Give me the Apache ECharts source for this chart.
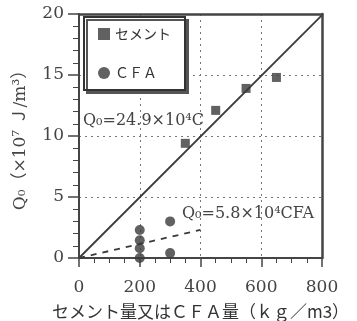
<!DOCTYPE html>
<html>
<head>
<meta charset="utf-8">
<script src="https://cdn.jsdelivr.net/npm/echarts@6/dist/echarts.min.js"></script>
<style>
  html, body { margin: 0; padding: 0; background: #fff; }
  #chart { width: 357px; height: 321px; }
</style>
</head>
<body>
<div id="chart"></div>
<script>
  // セメント (x: kg/m3, y: ×10^7 J/m3)
  const cementData = [[350, 9.4], [450, 12.1], [550, 13.9], [650, 14.8]]
  // CFA
  const cfaData = [[200, 0], [200, 0.8], [200, 1.45], [200, 2.3], [300, 0.4], [300, 3.0]]
  // 回帰直線
  const cementFit = [[0, 0], [800, 19.9]]
  const cfaFit = [[0, 0], [400, 2.3]]
  const xTicks = [0, 200, 400, 600, 800]
  const yTicks = [0, 5, 10, 15, 20]

  const serif = 'DejaVu Serif, Liberation Serif, Noto Sans CJK JP'
  const cjk = 'Noto Sans CJK JP'
  const ink = '#3a3a3a'

  const chart = echarts.init(document.getElementById('chart'))

  const option = {
    backgroundColor: '#fff',
    animation: false,
    grid: { left: 79, right: 35, top: 14, bottom: 63, outerBoundsMode: 'none' },
    legend: {
      left: 84,
      top: 17,
      orient: 'vertical',
      itemGap: 25,
      itemWidth: 12,
      itemHeight: 12,
      padding: [10, 14, 10, 14],
      borderColor: '#333',
      borderWidth: 2,
      backgroundColor: '#fff',
      shadowColor: '#555',
      shadowBlur: 0,
      shadowOffsetX: 3,
      shadowOffsetY: 3,
      textStyle: { fontFamily: cjk, fontSize: 14, color: '#333' },
      data: [
        { name: 'セメント', icon: 'rect' },
        { name: 'ＣＦＡ', icon: 'circle' }
      ]
    },
    xAxis: [{
      type: 'value',
      min: 0,
      max: 800,
      interval: 200,
      name: 'セメント量又はＣＦＡ量（ｋｇ／m3）',
      nameLocation: 'middle',
      nameGap: 45,
      nameTextStyle: { fontFamily: cjk, fontSize: 17, color: '#333' },
      axisLine: { lineStyle: { color: '#444', width: 2 } },
      axisTick: { length: 9, lineStyle: { color: '#444', width: 1.5 } },
      minorTick: { show: true, splitNumber: 4, length: 5, lineStyle: { color: '#444', width: 1 } },
      axisLabel: {
        margin: 21, fontFamily: serif, fontSize: 17, color: '#444',
        formatter: v => xTicks.includes(v) ? String(v) : ''
      },
      splitLine: { show: true, lineStyle: { color: '#777', type: [2, 4], width: 1 } }
    }, {
      type: 'value',
      position: 'top',
      min: 0,
      max: 800,
      axisLine: { show: true, onZero: false, lineStyle: { color: '#444', width: 2.5 } },
      axisTick: { show: false },
      axisLabel: { show: false },
      splitLine: { show: false }
    }],
    yAxis: [{
      type: 'value',
      min: 0,
      max: 20,
      interval: 5,
      name: 'Q₀（×10⁷ Ｊ/m³）',
      nameLocation: 'middle',
      nameRotate: 90,
      nameGap: 50,
      nameTextStyle: { fontFamily: serif, fontSize: 17, color: '#444' },
      axisLine: { show: true, lineStyle: { color: '#444', width: 2 } },
      axisTick: { show: true, length: 11, lineStyle: { color: '#444', width: 1.5 } },
      minorTick: { show: true, splitNumber: 5, length: 6, lineStyle: { color: '#444', width: 1 } },
      axisLabel: {
        margin: 15, fontFamily: serif, fontSize: 17, color: '#444',
        formatter: v => yTicks.includes(v) ? String(v) : ''
      },
      splitLine: { show: true, lineStyle: { color: '#777', type: [2, 4], width: 1 } }
    }, {
      type: 'value',
      position: 'right',
      min: 0,
      max: 20,
      axisLine: { show: true, onZero: false, lineStyle: { color: '#444', width: 2.5 } },
      axisTick: { show: false },
      axisLabel: { show: false },
      splitLine: { show: false }
    }],
    series: [
      {
        name: 'セメント',
        type: 'scatter',
        symbol: 'rect',
        symbolSize: 9,
        itemStyle: { color: ink },
        data: cementData,
        z: 5
      },
      {
        name: 'ＣＦＡ',
        type: 'scatter',
        symbol: 'circle',
        symbolSize: 10,
        itemStyle: { color: ink },
        data: cfaData,
        z: 5
      },
      {
        name: 'fitC',
        type: 'line',
        data: cementFit,
        showSymbol: false,
        lineStyle: { color: ink, width: 1.8 },
        z: 4
      },
      {
        name: 'fitF',
        type: 'line',
        data: cfaFit,
        showSymbol: false,
        lineStyle: { color: ink, width: 1.8, type: [6, 6] },
        z: 4
      }
    ],
    graphic: [
      {
        type: 'text',
        left: 83,
        top: 113,
        style: {
          text: 'Q₀=24.9×10⁴C',
          font: '16px ' + serif,
          fill: '#444'
        },
        z: 10
      },
      {
        type: 'text',
        left: 182,
        top: 206,
        style: {
          text: 'Q₀=5.8×10⁴CFA',
          font: '16px ' + serif,
          fill: '#444'
        },
        z: 10
      }
    ]
  }

  chart.setOption(option)
</script>
</body>
</html>
